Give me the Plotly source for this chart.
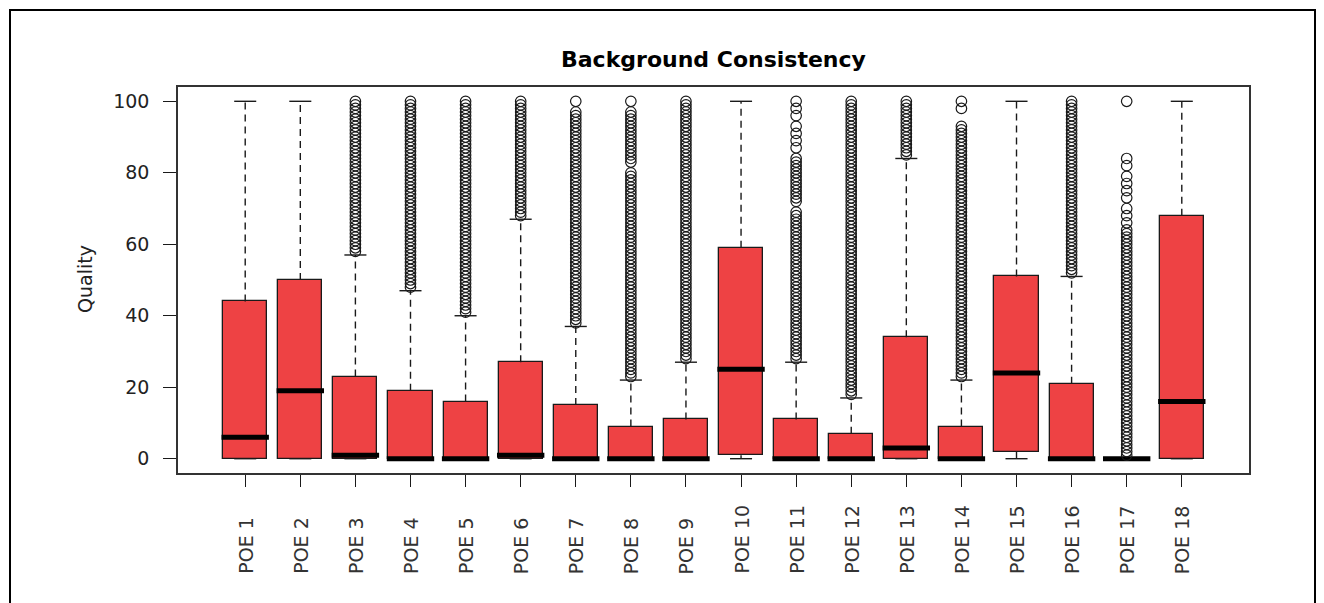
import plotly.graph_objects as go

# ---------------------------------------------------------------------------
# Box-plot summary per point of entry (quality score 0-100)
# ---------------------------------------------------------------------------
categories = ["POE 1", "POE 2", "POE 3", "POE 4", "POE 5", "POE 6", "POE 7",
              "POE 8", "POE 9", "POE 10", "POE 11", "POE 12", "POE 13",
              "POE 14", "POE 15", "POE 16", "POE 17", "POE 18"]

lower_whisker = [0, 0, 0, 0, 0, 0, 0, 0, 0, 0, 0, 0, 0, 0, 0, 0, 0, 0]
q1 = [0, 0, 0, 0, 0, 0, 0, 0, 0, 1, 0, 0, 0, 0, 2, 0, 0, 0]
median = [6, 19, 1, 0, 0, 1, 0, 0, 0, 25, 0, 0, 3, 0, 24, 0, 0, 16]
q3 = [44, 50, 23, 19, 16, 27, 15, 9, 11, 59, 11, 7, 34, 9, 51, 21, 0, 68]
upper_whisker = [100, 100, 57, 47, 40, 67, 37, 22, 27, 100, 27, 17, 84, 22,
                 100, 51, 0, 100]

# Individual outlying scores beyond the whiskers
outliers_poe3 = [100, 99, 98, 97, 96, 95, 94, 93, 92, 91,
                 90, 89, 88, 87, 86, 85, 84, 83, 82, 81,
                 80, 79, 78, 77, 76, 75, 74, 73, 72, 71,
                 70, 69, 68, 67, 66, 65, 64, 63, 62, 61,
                 60, 59, 58]
outliers_poe4 = [100, 99, 98, 97, 96, 95, 94, 93, 92, 91,
                 90, 89, 88, 87, 86, 85, 84, 83, 82, 81,
                 80, 79, 78, 77, 76, 75, 74, 73, 72, 71,
                 70, 69, 68, 67, 66, 65, 64, 63, 62, 61,
                 60, 59, 58, 57, 56, 55, 54, 53, 52, 51,
                 50, 49, 48]
outliers_poe5 = [100, 99, 98, 97, 96, 95, 94, 93, 92, 91,
                 90, 89, 88, 87, 86, 85, 84, 83, 82, 81,
                 80, 79, 78, 77, 76, 75, 74, 73, 72, 71,
                 70, 69, 68, 67, 66, 65, 64, 63, 62, 61,
                 60, 59, 58, 57, 56, 55, 54, 53, 52, 51,
                 50, 49, 48, 47, 46, 45, 44, 43, 42, 41]
outliers_poe6 = [100, 99, 98, 97, 96, 95, 94, 93, 92, 91,
                 90, 89, 88, 87, 86, 85, 84, 83, 82, 81,
                 80, 79, 78, 77, 76, 75, 74, 73, 72, 71,
                 70, 69, 68]
outliers_poe7 = [100, 97, 96, 95, 94, 93, 92, 91,
                 90, 89, 88, 87, 86, 85, 84, 83, 82, 81,
                 80, 79, 78, 77, 76, 75, 74, 73, 72, 71,
                 70, 69, 68, 67, 66, 65, 64, 63, 62, 61,
                 60, 59, 58, 57, 56, 55, 54, 53, 52, 51,
                 50, 49, 48, 47, 46, 45, 44, 43, 42, 41,
                 40, 39, 38]
outliers_poe8 = [100, 97, 96, 95, 94, 93, 92, 91,
                 90, 89, 88, 87, 86, 85, 84, 83,
                 80, 79, 78, 77, 76, 75, 74, 73, 72, 71,
                 70, 69, 68, 67, 66, 65, 64, 63, 62, 61,
                 60, 59, 58, 57, 56, 55, 54, 53, 52, 51,
                 50, 49, 48, 47, 46, 45, 44, 43, 42, 41,
                 40, 39, 38, 37, 36, 35, 34, 33, 32, 31,
                 30, 29, 28, 27, 26, 25, 24, 23]
outliers_poe9 = [100, 99, 98, 97, 96, 95, 94, 93, 92, 91,
                 90, 89, 88, 87, 86, 85, 84, 83, 82, 81,
                 80, 79, 78, 77, 76, 75, 74, 73, 72, 71,
                 70, 69, 68, 67, 66, 65, 64, 63, 62, 61,
                 60, 59, 58, 57, 56, 55, 54, 53, 52, 51,
                 50, 49, 48, 47, 46, 45, 44, 43, 42, 41,
                 40, 39, 38, 37, 36, 35, 34, 33, 32, 31,
                 30, 29, 28]
outliers_poe11 = [100, 98, 96, 93, 91, 89, 87,
                  84, 83, 82, 81, 80, 79, 78, 77, 76, 75, 74, 73, 72,
                  69, 68, 67, 66, 65, 64, 63, 62, 61,
                  60, 59, 58, 57, 56, 55, 54, 53, 52, 51,
                  50, 49, 48, 47, 46, 45, 44, 43, 42, 41,
                  40, 39, 38, 37, 36, 35, 34, 33, 32, 31,
                  30, 29, 28]
outliers_poe12 = [100, 99, 98, 97, 96, 95, 94, 93, 92, 91,
                  90, 89, 88, 87, 86, 85, 84, 83, 82, 81,
                  80, 79, 78, 77, 76, 75, 74, 73, 72, 71,
                  70, 69, 68, 67, 66, 65, 64, 63, 62, 61,
                  60, 59, 58, 57, 56, 55, 54, 53, 52, 51,
                  50, 49, 48, 47, 46, 45, 44, 43, 42, 41,
                  40, 39, 38, 37, 36, 35, 34, 33, 32, 31,
                  30, 29, 28, 27, 26, 25, 24, 23, 22, 21,
                  20, 19, 18]
outliers_poe13 = [100, 99, 98, 97, 96, 95, 94, 93, 92, 91,
                  90, 89, 88, 87, 86, 85]
outliers_poe14 = [100, 98, 93, 92, 91,
                  90, 89, 88, 87, 86, 85, 84, 83, 82, 81,
                  80, 79, 78, 77, 76, 75, 74, 73, 72, 71,
                  70, 69, 68, 67, 66, 65, 64, 63, 62, 61,
                  60, 59, 58, 57, 56, 55, 54, 53, 52, 51,
                  50, 49, 48, 47, 46, 45, 44, 43, 42, 41,
                  40, 39, 38, 37, 36, 35, 34, 33, 32, 31,
                  30, 29, 28, 27, 26, 25, 24, 23]
outliers_poe16 = [100, 99, 98, 97, 96, 95, 94, 93, 92, 91,
                  90, 89, 88, 87, 86, 85, 84, 83, 82, 81,
                  80, 79, 78, 77, 76, 75, 74, 73, 72, 71,
                  70, 69, 68, 67, 66, 65, 64, 63, 62, 61,
                  60, 59, 58, 57, 56, 55, 54, 53, 52]
outliers_poe17 = [100, 84, 82, 79, 77, 75, 73, 70, 68, 66,
                  64, 63, 62, 61,
                  60, 59, 58, 57, 56, 55, 54, 53, 52, 51,
                  50, 49, 48, 47, 46, 45, 44, 43, 42, 41,
                  40, 39, 38, 37, 36, 35, 34, 33, 32, 31,
                  30, 29, 28, 27, 26, 25, 24, 23, 22, 21,
                  20, 19, 18, 17, 16, 15, 14, 13, 12, 11,
                  10, 9, 8, 7, 6, 5, 4, 3, 2, 1]

outliers = [[], [], outliers_poe3, outliers_poe4, outliers_poe5,
            outliers_poe6, outliers_poe7, outliers_poe8, outliers_poe9, [],
            outliers_poe11, outliers_poe12, outliers_poe13, outliers_poe14,
            [], outliers_poe16, outliers_poe17, []]

# ---------------------------------------------------------------------------
# Geometry / style
# ---------------------------------------------------------------------------
W, H = 1324, 603
ML, MR, MT, MB = 178, 75, 87, 130
PW, PH = W - ML - MR, H - MT - MB

BOX_W = 0.8
CAP_HALF = 0.2
MED_HALF = 0.43
FILL = "#EE4244"
INK = "#1a1a1a"
FONT = "DejaVu Sans"


def px_x(px):
    return (px - ML) / PW


def px_y(py):
    return (H - MB - py) / PH


pos = list(range(1, len(categories) + 1))

# whiskers (dashed), from box edges to whisker ends
wx, wy = [], []
for p, lo, a, b, hi in zip(pos, lower_whisker, q1, q3, upper_whisker):
    if hi > b:
        wx += [p, p, None]
        wy += [b, hi, None]
    if lo < a:
        wx += [p, p, None]
        wy += [a, lo, None]

# staples at whisker ends
cx, cy = [], []
for p, lo, hi in zip(pos, lower_whisker, upper_whisker):
    cx += [p - CAP_HALF, p + CAP_HALF, None, p - CAP_HALF, p + CAP_HALF, None]
    cy += [hi, hi, None, lo, lo, None]

# medians
mx, my = [], []
for p, m in zip(pos, median):
    mx += [p - MED_HALF, p + MED_HALF, None]
    my += [m, m, None]

# outlier points
ox, oy = [], []
for p, vals in zip(pos, outliers):
    ox += [p] * len(vals)
    oy += vals

fig = go.Figure()

fig.add_trace(go.Bar(
    x=pos, y=[b - a for a, b in zip(q1, q3)], base=q1, width=BOX_W,
    marker=dict(color=FILL, line=dict(color=INK, width=1.3)),
    hoverinfo="skip", showlegend=False))

fig.add_trace(go.Scatter(
    x=wx, y=wy, mode="lines",
    line=dict(color=INK, width=1.4, dash="7px,5px"),
    hoverinfo="skip", showlegend=False))

fig.add_trace(go.Scatter(
    x=cx, y=cy, mode="lines", line=dict(color=INK, width=1.4),
    hoverinfo="skip", showlegend=False))

fig.add_trace(go.Scatter(
    x=mx, y=my, mode="lines", line=dict(color="#000000", width=5),
    hoverinfo="skip", showlegend=False))

fig.add_trace(go.Scatter(
    x=ox, y=oy, mode="markers",
    marker=dict(symbol="circle-open", size=10.5, color=INK,
                line=dict(width=1.2, color=INK)),
    hoverinfo="skip", showlegend=False))

annotations = []
# rotated category labels, aligned at their starting end
for p, name in zip(pos, categories):
    annotations.append(dict(
        x=p, xref="x", y=px_y(576), yref="paper",
        text=name, textangle=-90, showarrow=False,
        xanchor="center", yanchor="bottom",
        font=dict(family=FONT, size=19, color="#333333")))

# y-axis title
annotations.append(dict(
    x=px_x(85), xref="paper", y=px_y(279), yref="paper",
    text="Quality", textangle=-90, showarrow=False,
    xanchor="center", yanchor="middle",
    font=dict(family=FONT, size=19, color="#222222")))

# chart title
annotations.append(dict(
    x=0.5, xref="paper", y=px_y(60), yref="paper",
    text="<b>Background Consistency</b>", showarrow=False,
    xanchor="center", yanchor="middle",
    font=dict(family=FONT, size=22, color="#000000")))

fig.update_layout(
    width=W, height=H,
    margin=dict(l=ML, r=MR, t=MT, b=MB, pad=0),
    paper_bgcolor="white", plot_bgcolor="white",
    showlegend=False, bargap=0,
    annotations=annotations,
    shapes=[dict(type="rect", xref="paper", yref="paper",
                 x0=px_x(10), x1=px_x(1315), y0=px_y(640), y1=px_y(10),
                 line=dict(color="#000000", width=2), layer="above")],
)

fig.update_xaxes(
    range=[-0.22, 19.22], tickvals=pos, showticklabels=False,
    ticks="outside", ticklen=12, tickwidth=1.3, tickcolor=INK,
    showline=True, mirror=True, linecolor="#333333", linewidth=1.5,
    showgrid=False, zeroline=False, fixedrange=True)

fig.update_yaxes(
    range=[-4, 104], tickvals=[0, 20, 40, 60, 80, 100],
    ticks="outside", ticklen=13, tickwidth=1.3, tickcolor=INK,
    tickfont=dict(family=FONT, size=19, color="#222222"),
    ticklabelstandoff=10,
    showline=True, mirror=True, linecolor="#333333", linewidth=1.5,
    showgrid=False, zeroline=False, fixedrange=True)

fig.write_html("out.html", config={"displayModeBar": False})
